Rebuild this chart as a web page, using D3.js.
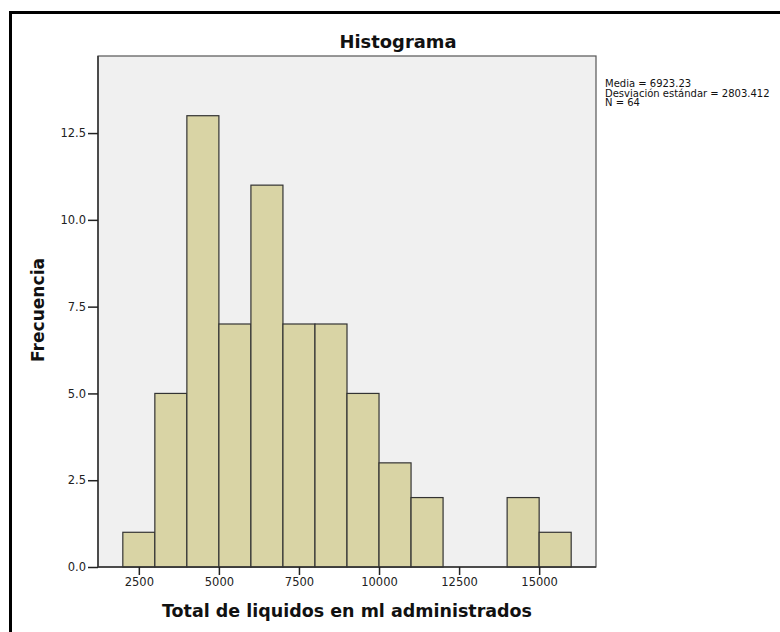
<!DOCTYPE html>
<html><head><meta charset="utf-8">
<script src="https://cdn.jsdelivr.net/npm/d3@7"></script>
<style>body{margin:0;background:#fff}svg{display:block}</style>
</head><body>
<svg id="c" width="780" height="632"></svg>
<script>
const binStarts = [2000,3000,4000,5000,6000,7000,8000,9000,10000,11000,12000,13000,14000,15000];
const binWidth = 1000;
const counts = [1,5,13,7,11,7,7,5,3,2,0,0,2,1];
const xTicks = [2500,5000,7500,10000,12500,15000];
const yTicks = [0,2.5,5,7.5,10,12.5];
const statsLines = ["Media = 6923.23","Desviación estándar = 2803.412","N = 64"];
const title = "Histograma";
const xTitle = "Total de liquidos en ml administrados";
const yTitle = "Frecuencia";

const svg = d3.select("#c");
const L=98,R=596,T=56,B=567;
const x = d3.scaleLinear().domain([1225,16775]).range([L,R]);
const y = d3.scaleLinear().domain([0,14.72]).range([B,T]);
const font = "'DejaVu Sans', sans-serif";

// outer frame
svg.append("rect").attr("x",10.5).attr("y",12.5).attr("width",800).attr("height",700)
  .attr("fill","#fff").attr("stroke","#000").attr("stroke-width",3);

// plot background
svg.append("rect").attr("x",L).attr("y",T).attr("width",R-L).attr("height",B-T)
  .attr("fill","#f0f0f0").attr("stroke","#555").attr("stroke-width",1.2);

// bars
const data = binStarts.map((s,i)=>({s,c:counts[i]})).filter(d=>d.c>0);
svg.append("g").selectAll("rect").data(data).join("rect")
  .attr("x",d=>x(d.s)).attr("width",d=>x(d.s+binWidth)-x(d.s))
  .attr("y",d=>y(d.c)).attr("height",d=>y(0)-y(d.c))
  .attr("fill","#d9d4a5").attr("stroke","#333").attr("stroke-width",1.2);

// axes
const xa = svg.append("g").attr("transform",`translate(0,${B})`)
  .call(d3.axisBottom(x).tickValues(xTicks).tickFormat(d3.format("d")).tickSize(8).tickPadding(3));
const ya = svg.append("g").attr("transform",`translate(${L},0)`)
  .call(d3.axisLeft(y).tickValues(yTicks).tickFormat(d3.format(".1f")).tickSize(10).tickPadding(2));
[xa,ya].forEach(a=>{
  a.select(".domain").attr("stroke","#333").attr("stroke-width",1.5);
  a.selectAll(".tick line").attr("stroke","#222").attr("stroke-width",1.5);
  a.selectAll(".tick text").attr("fill","#222").style("font-family",font).style("font-size","11.5px");
});
ya.select(".domain").attr("d",`M0,${B}V${T}`);
xa.select(".domain").attr("d",`M${L},0H${R}`);

// titles
svg.append("text").attr("x",398).attr("y",48).attr("text-anchor","middle")
  .style("font-family",font).style("font-weight","bold").style("font-size","17px").attr("fill","#111")
  .attr("textLength",117).attr("lengthAdjust","spacingAndGlyphs").text(title);
svg.append("text").attr("x",347).attr("y",617).attr("text-anchor","middle")
  .style("font-family",font).style("font-weight","bold").style("font-size","17.5px").attr("fill","#111")
  .attr("textLength",370).attr("lengthAdjust","spacingAndGlyphs").text(xTitle);
svg.append("text").attr("transform","translate(44,310) rotate(-90)").attr("text-anchor","middle")
  .style("font-family",font).style("font-weight","bold").style("font-size","17px").attr("fill","#111")
  .attr("textLength",104).attr("lengthAdjust","spacingAndGlyphs").text(yTitle);

// stats
svg.append("g").selectAll("text").data(statsLines).join("text")
  .attr("x",605).attr("y",(d,i)=>87+i*9.5)
  .style("font-family",font).style("font-size","10px").attr("fill","#111").text(d=>d);
</script>
</body></html>
